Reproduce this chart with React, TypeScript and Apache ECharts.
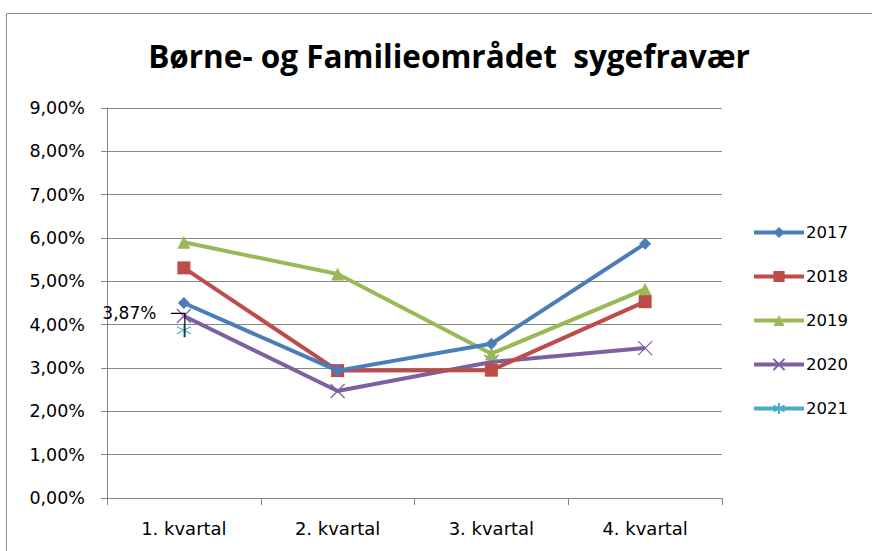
import React, { useEffect, useRef } from "react";
import * as echarts from "echarts";

const categories = ["1. kvartal", "2. kvartal", "3. kvartal", "4. kvartal"];
const years = ["2017", "2018", "2019", "2020", "2021"];
const s2017 = [4.5, 2.94, 3.56, 5.87];
const s2018 = [5.31, 2.94, 2.95, 4.53];
const s2019 = [5.9, 5.17, 3.33, 4.82];
const s2020 = [4.2, 2.47, 3.14, 3.46];
const s2021 = [3.87, null, null, null];
const colors = ["#4A7EBB", "#BE4B48", "#98B954", "#7D60A0", "#4BACC6"];
const yTicks = { min: 0, max: 9, interval: 1 };

const fmt = (v: number) => v.toFixed(2).replace(".", ",") + "%";

const xSymbol = "path://M0,0L10,10M10,0L0,10";
const starSymbol = "path://M5,0L5,10M0,2.5L10,7.5M10,2.5L0,7.5";

export default function App() {
  const ref = useRef<HTMLDivElement>(null);
  useEffect(() => {
    const chart = echarts.init(ref.current!, undefined, { renderer: "svg" });
    const font = "'DejaVu Sans', sans-serif";
    const mk = (name: string, data: (number | null)[], i: number, extra: any) => ({
      name,
      type: "line",
      data,
      lineStyle: { width: 4, color: colors[i] },
      itemStyle: { color: colors[i] },
      symbolSize: 10,
      z: 10 - i,
      ...extra,
    });
    chart.setOption({
      animation: false,
      backgroundColor: "#fff",
      textStyle: { fontFamily: font },
      title: {
        text: "Børne- og Familieområdet  sygefravær",
        left: 444,
        textAlign: "center",
        top: 34,
        textStyle: {
          fontSize: 31.5,
          fontWeight: "bold",
          color: "#000",
          fontFamily: "'Open Sans', sans-serif",
        },
      },
      graphic: [
        {
          id: "border",
          type: "rect",
          shape: { x: 6.5, y: 13.5, width: 900, height: 600 },
          style: { fill: "none", stroke: "#8c8c8c", lineWidth: 1 },
          silent: true,
        },
      ],
      legend: {
        orient: "vertical",
        left: 747,
        top: 219,
        itemGap: 27,
        itemWidth: 50,
        itemHeight: 14,
        data: years,
        lineStyle: { width: 4 },
        textStyle: { fontSize: 16.5, color: "#000", fontFamily: font, padding: [0, 0, 0, -3] },
      },
      grid: { left: 107, right: 150, top: 108, bottom: 53 },
      xAxis: {
        type: "category",
        data: categories,
        boundaryGap: true,
        axisLine: { lineStyle: { color: "#868686" } },
        axisTick: { show: true, length: 7, lineStyle: { color: "#868686" } },
        axisLabel: { fontSize: 18, color: "#000", margin: 21, fontFamily: font },
      },
      yAxis: {
        type: "value",
        min: yTicks.min,
        max: yTicks.max,
        interval: yTicks.interval,
        axisLine: { show: true, lineStyle: { color: "#868686" } },
        axisTick: { show: true, length: 6, lineStyle: { color: "#868686" } },
        splitLine: { lineStyle: { color: "#868686", width: 1 } },
        axisLabel: { fontSize: 17.5, color: "#000", margin: 22, formatter: fmt, fontFamily: font },
      },
      series: [
        mk("2017", s2017, 0, { symbol: "diamond", symbolSize: 12 }),
        mk("2018", s2018, 1, { symbol: "rect", symbolSize: 13 }),
        mk("2019", s2019, 2, { symbol: "triangle", symbolSize: 13 }),
        mk("2020", s2020, 3, {
          symbol: xSymbol,
          symbolSize: 14,
          itemStyle: { color: "none", borderColor: colors[3], borderWidth: 1.2 },
        }),
        mk("2021", s2021, 4, {
          symbol: starSymbol,
          symbolSize: 14,
          itemStyle: { color: "none", borderColor: colors[4], borderWidth: 1.2 },
          label: {
            show: true,
            position: "left",
            distance: 18,
            offset: [0, -17],
            formatter: (p: any) => fmt(p.value),
            fontSize: 17,
            color: "#000",
            fontFamily: font,
          },
        }),
      ],
    });
    const pt = chart.convertToPixel({ seriesIndex: 4 }, [0, s2021[0] as number]) as number[];
    if (pt) {
      const [px, py] = pt;
      chart.setOption({
        graphic: [
          {
            id: "leader",
            type: "polyline",
            shape: {
              points: [
                [px - 13, py - 17],
                [px + 1, py - 17],
                [px + 1, py + 7],
              ],
            },
            style: { stroke: "#000", lineWidth: 1.2, fill: "none" },
            z: 100,
            silent: true,
          },
        ],
      });
    }
    return () => chart.dispose();
  }, []);
  return (
    <div
      ref={ref}
      style={{ position: "absolute", left: 0, top: 0, width: 872, height: 551 }}
    />
  );
}
